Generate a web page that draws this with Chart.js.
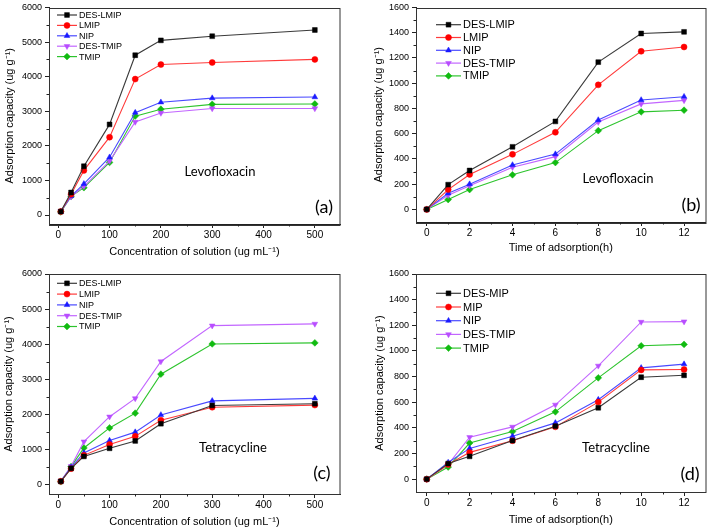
<!DOCTYPE html>
<html>
<head>
<meta charset="utf-8">
<script src="https://cdn.jsdelivr.net/npm/chart.js@4.4.1/dist/chart.umd.min.js"></script>
<style>
html,body{margin:0;padding:0;background:#fff;}
#wrap{position:relative;width:710px;height:529px;overflow:hidden;background:#fff;}
canvas{position:absolute;}
</style>
</head>
<body>
<div id="wrap">
<canvas id="ca" width="355" height="265" style="left:0;top:0"></canvas>
<canvas id="cb" width="355" height="265" style="left:355px;top:0"></canvas>
<canvas id="cc" width="355" height="264" style="left:0;top:265px"></canvas>
<canvas id="cd" width="355" height="264" style="left:355px;top:265px"></canvas>
</div>
<script>
// ---------- data ----------
const concX = [5, 25, 50, 100, 150, 200, 300, 500];
const timeX = [0, 1, 2, 4, 6, 8, 10, 12];

const concTicks = [0, 100, 200, 300, 400, 500];
const timeTicks = [0, 2, 4, 6, 8, 10, 12];
const capTicksHigh = [0, 1000, 2000, 3000, 4000, 5000, 6000];
const capTicksLow = [0, 200, 400, 600, 800, 1000, 1200, 1400, 1600];

const namesAB = ['DES-LMIP', 'LMIP', 'NIP', 'DES-TMIP', 'TMIP'];
const namesC = ['DES-LMIP', 'LMIP', 'NIP', 'DES-TMIP', 'TMIP'];
const namesD = ['DES-MIP', 'MIP', 'NIP', 'DES-TMIP', 'TMIP'];

// (a) Levofloxacin, concentration
const a_DES_LMIP = [100, 650, 1410, 2620, 4620, 5050, 5170, 5350];
const a_LMIP     = [100, 600, 1290, 2250, 3930, 4350, 4410, 4500];
const a_NIP      = [100, 550, 900, 1670, 2960, 3260, 3380, 3410];
const a_DES_TMIP = [110, 530, 830, 1560, 2690, 2950, 3080, 3080];
const a_TMIP     = [90, 540, 790, 1520, 2860, 3060, 3200, 3210];

// (b) Levofloxacin, time
const b_DES_LMIP = [0, 196, 308, 496, 697, 1167, 1394, 1407];
const b_LMIP     = [0, 157, 277, 436, 611, 987, 1253, 1287];
const b_NIP      = [0, 128, 200, 352, 438, 708, 867, 893];
const b_DES_TMIP = [0, 112, 188, 334, 418, 692, 836, 864];
const b_TMIP     = [0, 78, 157, 274, 371, 624, 773, 786];

// (c) Tetracycline, concentration
const c_DES_LMIP = [100, 470, 810, 1040, 1250, 1740, 2260, 2310];
const c_LMIP     = [100, 460, 840, 1150, 1380, 1840, 2210, 2270];
const c_NIP      = [100, 500, 910, 1260, 1500, 1990, 2390, 2460];
const c_DES_TMIP = [110, 530, 1230, 1940, 2460, 3510, 4530, 4580];
const c_TMIP     = [90, 520, 1050, 1620, 2040, 3150, 4010, 4040];

// (d) Tetracycline, time
const d_DES_MIP  = [0, 122, 178, 301, 413, 557, 795, 810];
const d_MIP      = [0, 115, 209, 300, 408, 601, 852, 855];
const d_NIP      = [0, 130, 240, 335, 439, 620, 868, 897];
const d_DES_TMIP = [0, 115, 327, 408, 580, 884, 1226, 1229];
const d_TMIP     = [0, 95, 282, 371, 525, 790, 1040, 1051];

// ---------- styles ----------
const lineColors = ['#3a3a3a', '#ff3b3b', '#4a4aff', '#c266ff', '#2ec42e'];
const markColors = ['#000000', '#ff0000', '#1a1aff', '#b84dff', '#11bb11'];
const markStyles = ['rect', 'circle', 'triangle', 'triangle', 'rectRot'];
const markRot = [0, 0, 0, 180, 0];
const markRad = [3.4, 3, 3.3, 3.3, 3.4];

const FONT = "'Liberation Sans', Arial, sans-serif";

function makeDatasets(xs, series, names) {
  return series.map((ys, i) => ({
    label: names[i],
    data: xs.map((x, j) => ({x: x, y: ys[j]})),
    borderColor: lineColors[i],
    backgroundColor: markColors[i],
    pointBackgroundColor: markColors[i],
    pointBorderColor: markColors[i],
    pointBorderWidth: 0.5,
    pointStyle: markStyles[i],
    pointRotation: markRot[i],
    pointRadius: markRad[i],
    borderWidth: 1.1,
    tension: 0,
    fill: false
  }));
}

const framePlugin = {
  id: 'frame',
  afterDraw(chart, args, opts) {
    const ctx = chart.ctx, ca = chart.chartArea;
    ctx.save();
    ctx.strokeStyle = '#333';
    ctx.lineWidth = 1;
    ctx.strokeRect(Math.round(ca.left) + 0.5, Math.round(ca.top) + 0.5,
                   Math.round(ca.right - ca.left) - 0.5, Math.round(ca.bottom - ca.top));
    const xs = chart.scales.x, ys = chart.scales.y;
    ctx.strokeStyle = '#222';
    ctx.beginPath();
    opts.xMinor.forEach(v => {
      const px = Math.round(xs.getPixelForValue(v)) + 0.5;
      ctx.moveTo(px, ca.bottom); ctx.lineTo(px, ca.bottom + 2.5);
    });
    opts.yMinor.forEach(v => {
      const py = Math.round(ys.getPixelForValue(v)) + 0.5;
      ctx.moveTo(ca.left, py); ctx.lineTo(ca.left - 2.5, py);
    });
    ctx.stroke();
    const lg = opts.legend;
    chart.data.datasets.forEach((ds, i) => {
      const y = lg.y0 + i * lg.dy;
      ctx.strokeStyle = ds.borderColor;
      ctx.lineWidth = 1.2;
      ctx.beginPath();
      ctx.moveTo(lg.x0, y); ctx.lineTo(lg.x0 + lg.len, y);
      ctx.stroke();
      ctx.fillStyle = ds.pointBackgroundColor;
      ctx.strokeStyle = ds.pointBorderColor;
      ctx.lineWidth = 0.5;
      Chart.helpers.drawPoint(ctx, {pointStyle: ds.pointStyle, radius: ds.pointRadius,
        rotation: ds.pointRotation, borderWidth: 0.5}, lg.x0 + lg.len / 2, y);
      ctx.fillStyle = '#000';
      ctx.font = lg.size + 'px ' + FONT;
      ctx.textAlign = 'left';
      ctx.textBaseline = 'middle';
      ctx.fillText(ds.label, lg.tx, y + 0.5);
    });
    ctx.fillStyle = '#000';
    ctx.textAlign = 'center';
    ctx.textBaseline = 'middle';
    ctx.font = "13px Lato, 'Open Sans', sans-serif";
    ctx.fillText(opts.drug.text, opts.drug.x, opts.drug.y);
    ctx.font = "18px Lato, 'Open Sans', sans-serif";
    ctx.fillText(opts.tag.text, opts.tag.x, opts.tag.y);
    ctx.restore();
  }
};

function minorOf(ticks) {
  const out = [];
  for (let i = 0; i < ticks.length - 1; i++) out.push((ticks[i] + ticks[i + 1]) / 2);
  return out;
}

function build(id, cfg) {
  const W = cfg.W, H = cfg.H;
  new Chart(document.getElementById(id), {
    type: 'line',
    data: {datasets: makeDatasets(cfg.xs, cfg.series, cfg.names)},
    options: {
      responsive: false,
      animation: false,
      devicePixelRatio: 1,
      layout: {padding: {left: 0, top: cfg.top, right: W - cfg.right, bottom: 0}},
      plugins: {
        legend: {display: false},
        tooltip: {enabled: false},
        frame: {
          xMinor: minorOf(cfg.xTicks), yMinor: minorOf(cfg.yTicks),
          legend: cfg.legend, drug: cfg.drug, tag: cfg.tag
        }
      },
      scales: {
        x: {
          type: 'linear', min: cfg.xMin, max: cfg.xMax,
          afterBuildTicks: s => { s.ticks = cfg.xTicks.map(v => ({value: v})); },
          afterFit: s => { s.height = H - cfg.bottom; },
          grid: {drawOnChartArea: false, drawTicks: true, tickLength: 4, color: '#222', tickWidth: 1},
          border: {display: true, color: '#222', width: 1},
          ticks: {color: '#000', font: {family: FONT, size: 10, lineHeight: 1}, padding: 2, maxRotation: 0,
                  autoSkip: false, callback: v => String(v)},
          title: {display: true, text: cfg.xTitle, color: '#000', font: {family: FONT, size: 11},
                  padding: {top: 0, bottom: cfg.xTitlePad}}
        },
        y: {
          type: 'linear', min: cfg.yMin, max: cfg.yMax,
          afterBuildTicks: s => { s.ticks = cfg.yTicks.map(v => ({value: v})); },
          afterFit: s => { s.width = cfg.left; },
          grid: {drawOnChartArea: false, drawTicks: true, tickLength: 4, color: '#222', tickWidth: 1},
          border: {display: true, color: '#222', width: 1},
          ticks: {color: '#000', font: {family: FONT, size: 9, lineHeight: 1}, padding: 3,
                  autoSkip: false, callback: v => String(v)},
          title: {display: true, text: 'Adsorption capacity (ug g\u207B\u00B9)', color: '#000',
                  font: {family: FONT, size: 11}, padding: {top: cfg.yTitlePad, bottom: 0}}
        }
      }
    },
    plugins: [framePlugin]
  });
}

const concTitle = 'Concentration of solution (ug mL\u207B\u00B9)';
const timeTitle = 'Time of adsorption(h)';

build('ca', {
  W: 355, H: 265, left: 49, right: 340, top: 5, bottom: 224,
  xs: concX, series: [a_DES_LMIP, a_LMIP, a_NIP, a_DES_TMIP, a_TMIP], names: namesAB,
  xMin: -18, xMax: 549, yMin: -260, yMax: 6000, xTicks: concTicks, yTicks: capTicksHigh,
  xTitle: concTitle, xTitlePad: 6.7, yTitlePad: 3.4,
  legend: {x0: 57, len: 20, tx: 79, y0: 15, dy: 10.4, size: 9},
  drug: {text: 'Levofloxacin', x: 220, y: 172}, tag: {text: '(a)', x: 324, y: 207}
});
build('cb', {
  W: 355, H: 265, left: 61, right: 352, top: 5, bottom: 222,
  xs: timeX, series: [b_DES_LMIP, b_LMIP, b_NIP, b_DES_TMIP, b_TMIP], names: namesAB,
  xMin: -0.5, xMax: 13, yMin: -100, yMax: 1600, xTicks: timeTicks, yTicks: capTicksLow,
  xTitle: timeTitle, xTitlePad: 10.4, yTitlePad: 17.4,
  legend: {x0: 81, len: 25, tx: 108, y0: 24.7, dy: 12.8, size: 11},
  drug: {text: 'Levofloxacin', x: 263, y: 179}, tag: {text: '(b)', x: 336, y: 205}
});
build('cc', {
  W: 355, H: 264, left: 49, right: 340, top: 9, bottom: 229,
  xs: concX, series: [c_DES_LMIP, c_LMIP, c_NIP, c_DES_TMIP, c_TMIP], names: namesC,
  xMin: -18, xMax: 549, yMin: -260, yMax: 6000, xTicks: concTicks, yTicks: capTicksHigh,
  xTitle: concTitle, xTitlePad: 0.7, yTitlePad: 2.7,
  legend: {x0: 57, len: 20, tx: 79, y0: 18.3, dy: 10.8, size: 9},
  drug: {text: 'Tetracycline', x: 233, y: 183}, tag: {text: '(c)', x: 322, y: 208}
});
build('cd', {
  W: 355, H: 264, left: 61, right: 352, top: 9, bottom: 227,
  xs: timeX, series: [d_DES_MIP, d_MIP, d_NIP, d_DES_TMIP, d_TMIP], names: namesD,
  xMin: -0.5, xMax: 13, yMin: -100, yMax: 1600, xTicks: timeTicks, yTicks: capTicksLow,
  xTitle: timeTitle, xTitlePad: 2.4, yTitlePad: 18.4,
  legend: {x0: 81, len: 25, tx: 108, y0: 28.3, dy: 13.7, size: 11},
  drug: {text: 'Tetracycline', x: 261, y: 183}, tag: {text: '(d)', x: 335, y: 209}
});
</script>
</body>
</html>
